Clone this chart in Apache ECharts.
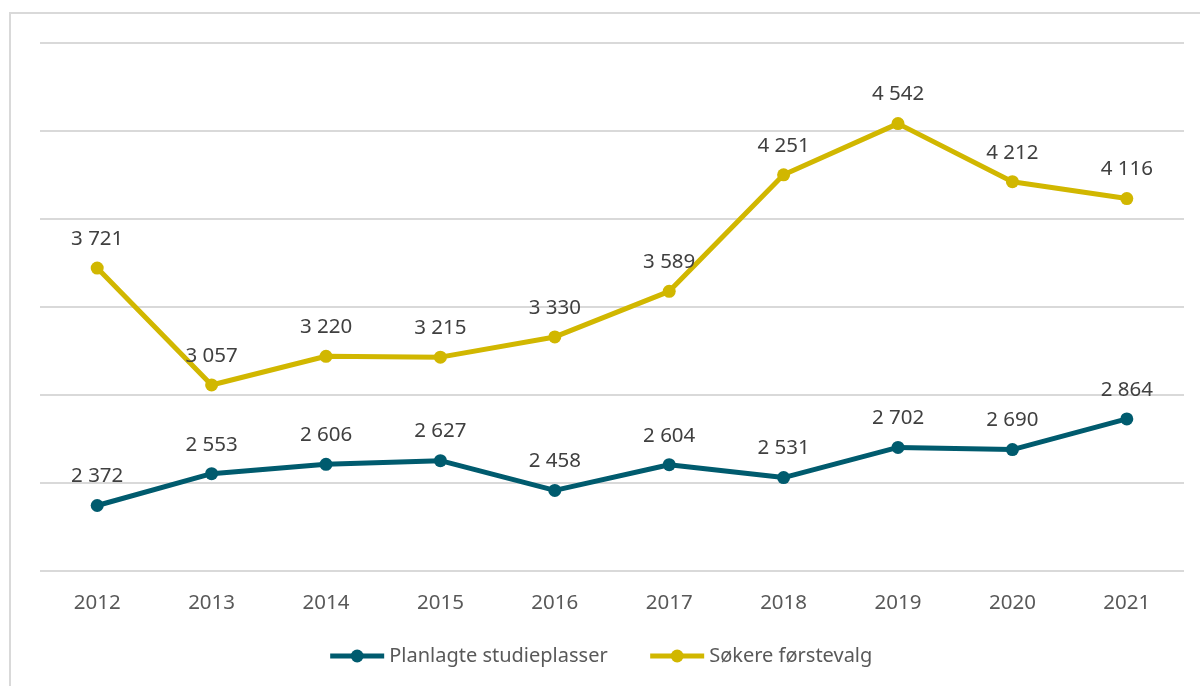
<!DOCTYPE html>
<html><head><meta charset="utf-8">
<script src="https://cdn.jsdelivr.net/npm/echarts@6/dist/echarts.min.js"></script>
<style>html,body{margin:0;padding:0;background:#fff}#c{width:1200px;height:686px}</style>
</head><body><div id="c"></div>
<script>
const years = ['2012','2013','2014','2015','2016','2017','2018','2019','2020','2021'];
const planlagte = [2372, 2553, 2606, 2627, 2458, 2604, 2531, 2702, 2690, 2864];
const sokere = [3721, 3057, 3220, 3215, 3330, 3589, 4251, 4542, 4212, 4116];
const seriesNames = ['Planlagte studieplasser', 'Søkere førstevalg'];
const colors = ['#005b6e', '#d1b700'];

const fmt = v => String(v).replace(/\B(?=(\d{3})+(?!\d))/g, ' ');
const font = 'Noto Sans';
const chart = echarts.init(document.getElementById('c'), null, {renderer:'canvas'});
function mk(name, data, color){
  return {
    name, type:'line', data, color,
    symbol:'circle', symbolSize:13,
    lineStyle:{width:5, color},
    itemStyle:{color},
    label:{show:true, position:'top', distance:12, formatter:p=>fmt(p.value),
      fontFamily:font, fontSize:20.5, color:'#404040'},
    z: 3
  };
}
chart.setOption({
  animation:false,
  backgroundColor:'#fff',
  graphic:[{type:'rect', shape:{x:10, y:13, width:1300, height:800},
    style:{fill:'none', stroke:'#d9d9d9', lineWidth:2}, silent:true}],
  grid:{left:40, right:16, top:43, bottom:115},
  legend:{bottom:15, left:'center', itemWidth:54, itemHeight:16, itemGap:40,
    lineStyle:{width:5},
    textStyle:{fontFamily:font, fontSize:20, color:'#595959'},
    data: seriesNames},
  xAxis:{type:'category', data:years, boundaryGap:true,
    axisLine:{show:false}, axisTick:{show:false},
    axisLabel:{fontFamily:font, fontSize:20.5, color:'#595959', margin:22}},
  yAxis:{type:'value', min:2000, max:5000, interval:500,
    axisLabel:{show:false}, axisLine:{show:false}, axisTick:{show:false},
    splitLine:{lineStyle:{color:'#d9d9d9', width:2}}},
  series:[mk(seriesNames[0], planlagte, colors[0]), mk(seriesNames[1], sokere, colors[1])]
});
</script></body></html>
